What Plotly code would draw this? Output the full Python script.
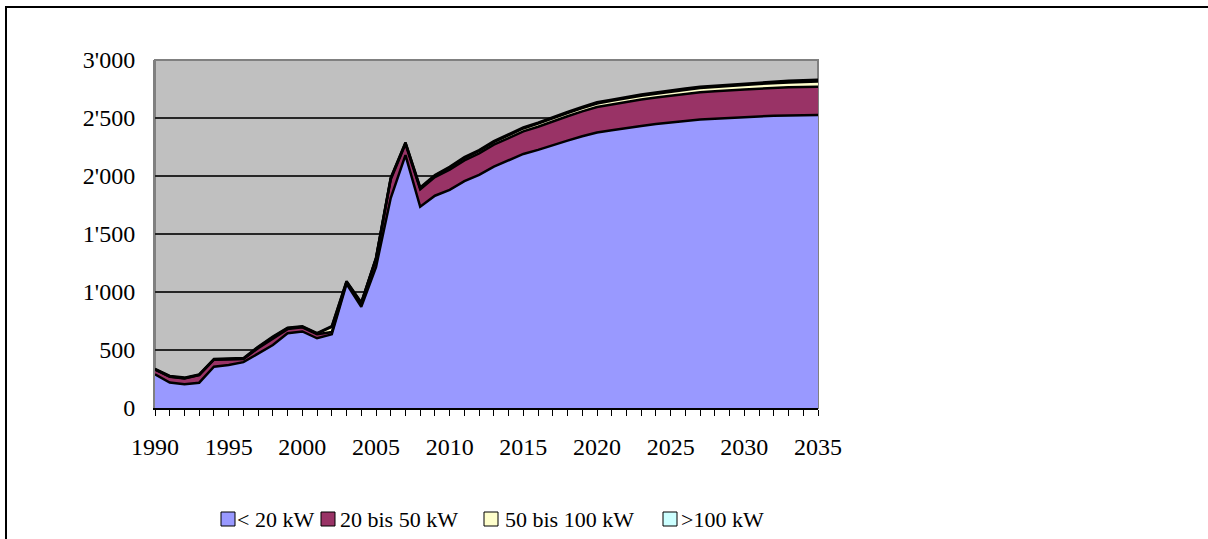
import plotly.graph_objects as go

years = list(range(1990, 2036))

lt20 = [290, 220, 205, 218, 356, 371, 395, 471, 543, 645,
        660, 601, 635, 1070, 872, 1215, 1810, 2180, 1735, 1830,
        1880, 1955, 2010, 2080, 2135, 2190, 2225, 2268, 2305, 2342,
        2375, 2395, 2415, 2432, 2448, 2463, 2476, 2488, 2494, 2502,
        2506, 2512, 2520, 2522, 2524, 2525]

b20_50 = [40, 50, 50, 65, 60, 50, 28, 45, 55, 35,
          35, 35, 20, 15, 30, 70, 160, 95, 150, 160,
          175, 180, 185, 190, 192, 195, 200, 205, 210, 215,
          220, 222, 225, 227, 228, 230, 232, 234, 236, 238,
          240, 241, 242, 243, 244, 245]

b50_100 = [2, 2, 2, 2, 2, 2, 2, 8, 12, 8,
           5, 5, 45, 3, 3, 5, 10, 10, 10, 12,
           18, 20, 21, 22, 23, 25, 26, 27, 28, 29,
           30, 31, 32, 32, 33, 34, 35, 36, 37, 38,
           39, 40, 41, 42, 43, 44]

gt100 = [5, 5, 5, 5, 5, 5, 5, 5, 5, 5,
         5, 5, 5, 5, 5, 5, 5, 5, 6, 6,
         7, 7, 8, 8, 8, 9, 9, 9, 10, 10,
         10, 10, 11, 11, 11, 12, 12, 12, 12, 13,
         13, 13, 14, 14, 14, 15]

series_names = ["< 20 kW", "20 bis 50 kW", "50 bis 100 kW", ">100 kW"]
series_vals = [lt20, b20_50, b50_100, gt100]
series_colors = ["#9999FF", "#993366", "#FFFFCC", "#CCFFFF"]

fig = go.Figure()
for name, vals, col in zip(series_names, series_vals, series_colors):
    fig.add_trace(go.Scatter(
        x=years, y=vals, name=name, mode="lines",
        stackgroup="one", fillcolor=col,
        line=dict(color="black", width=2.5),
        showlegend=False,
    ))

W, H = 1208, 539
L, R, T, B = 155, 818, 60, 408
pw, ph = R - L, B - T

def px(x):
    return (x - L) / pw

def py(y):
    return (B - y) / ph

# legend drawn below the plot: swatch + label per series
legend_box_x = [221, 321, 484, 663]
legend_text_x = [236, 339, 504, 680]
shapes = [
    dict(type="rect", xref="paper", yref="paper", x0=0, x1=1, y0=0, y1=1,
         line=dict(color="#808080", width=2), fillcolor="rgba(0,0,0,0)", layer="below"),
    dict(type="rect", xref="paper", yref="paper",
         x0=px(6), x1=px(1215), y0=py(545), y1=py(7),
         line=dict(color="black", width=2), fillcolor="rgba(0,0,0,0)", layer="above"),
]
annotations = []
for name, col, bx, tx in zip(series_names, series_colors, legend_box_x, legend_text_x):
    shapes.append(dict(type="rect", xref="paper", yref="paper",
                       x0=px(bx), x1=px(bx + 14), y0=py(526), y1=py(512),
                       line=dict(color="black", width=1), fillcolor=col, layer="above"))
    annotations.append(dict(text=name, xref="paper", yref="paper", x=px(tx - 1), y=py(519),
                            xanchor="left", yanchor="middle", showarrow=False,
                            font=dict(size=22)))

fig.update_layout(
    width=W, height=H,
    margin=dict(l=L, r=W - R, t=T, b=H - B, pad=0, autoexpand=False),
    paper_bgcolor="white",
    plot_bgcolor="#C0C0C0",
    font=dict(family="Liberation Serif, Times New Roman, serif", size=24, color="black"),
    separators=".'",
    showlegend=False,
    xaxis=dict(
        range=[1990, 2035], tickmode="linear", tick0=1990, dtick=5,
        showgrid=False, zeroline=False,
        showline=True, linecolor="black", linewidth=2,
        ticks="outside", ticklen=6, tickcolor="black", tickwidth=1,
        minor=dict(dtick=1, ticks="outside", ticklen=6, tickcolor="black", tickwidth=1, showgrid=False),
        ticklabelstandoff=10,
    ),
    yaxis=dict(
        range=[0, 3000], tickmode="linear", tick0=0, dtick=500,
        tickformat=",d",
        showgrid=True, gridcolor="#262626", gridwidth=1.5,
        zeroline=False, showline=True, linecolor="#808080", linewidth=2,
        ticks="", ticklabelstandoff=13,
    ),
    shapes=shapes,
    annotations=annotations,
)

fig.write_html("out.html", config={"displayModeBar": False},
               post_script="document.body.style.margin='0px';")
